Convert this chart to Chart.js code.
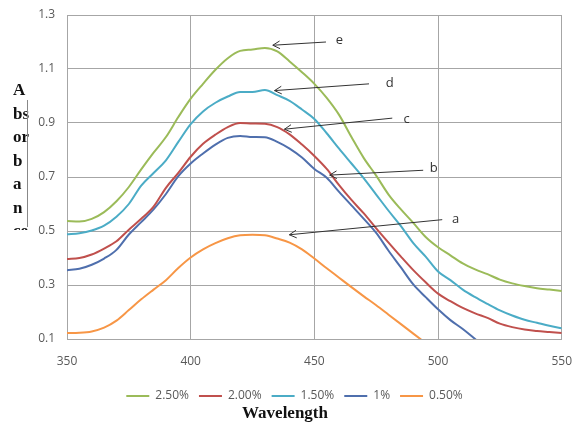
<!DOCTYPE html>
<html>
<head>
<meta charset="utf-8">
<script src="https://cdn.jsdelivr.net/npm/chart.js@4.4.1/dist/chart.umd.min.js"></script>
<style>
html, body { margin: 0; padding: 0; background: #fff; }
</style>
</head>
<body>
<canvas id="absChart" width="587" height="423"></canvas>
<script>
// wavelength (nm), 5 nm steps
const wavelengths = [350, 355, 360, 365, 370, 375, 380, 385, 390, 395,
                     400, 405, 410, 415, 420, 425, 430, 435, 440, 445,
                     450, 455, 460, 465, 470, 475, 480, 485, 490, 495,
                     500, 505, 510, 515, 520, 525, 530, 535, 540, 545, 550];

const abs250 = [0.537, 0.535, 0.545, 0.57, 0.61, 0.663, 0.728, 0.79, 0.848, 0.922,
                0.99, 1.045, 1.097, 1.14, 1.167, 1.172, 1.178, 1.165, 1.128, 1.088,
                1.045, 0.993, 0.93, 0.848, 0.77, 0.705, 0.635, 0.58, 0.53, 0.478,
                0.44, 0.41, 0.38, 0.358, 0.34, 0.32, 0.306, 0.296, 0.288, 0.283, 0.278];

const abs200 = [0.396, 0.4, 0.413, 0.435, 0.462, 0.505, 0.545, 0.59, 0.66, 0.715,
                0.775, 0.823, 0.857, 0.885, 0.9, 0.898, 0.897, 0.885, 0.858, 0.82,
                0.778, 0.73, 0.67, 0.615, 0.565, 0.51, 0.457, 0.405, 0.355, 0.31,
                0.268, 0.24, 0.215, 0.195, 0.178, 0.157, 0.144, 0.135, 0.13, 0.126, 0.122];

const abs150 = [0.488, 0.492, 0.502, 0.52, 0.553, 0.6, 0.668, 0.715, 0.762, 0.83,
                0.896, 0.943, 0.975, 0.998, 1.015, 1.015, 1.022, 1.003, 0.982, 0.95,
                0.915, 0.862, 0.805, 0.75, 0.695, 0.635, 0.575, 0.518, 0.455, 0.405,
                0.35, 0.318, 0.283, 0.255, 0.23, 0.206, 0.187, 0.171, 0.16, 0.149, 0.14];

const abs100 = [0.355, 0.36, 0.375, 0.398, 0.43, 0.487, 0.533, 0.58, 0.637, 0.703,
                0.75, 0.787, 0.82, 0.845, 0.852, 0.848, 0.847, 0.83, 0.805, 0.772,
                0.73, 0.697, 0.645, 0.595, 0.545, 0.493, 0.427, 0.365, 0.302, 0.255,
                0.21, 0.17, 0.137, 0.1, 0.065, null, null, null, null, null, null];

const abs050 = [0.122, 0.123, 0.128, 0.142, 0.168, 0.207, 0.247, 0.283, 0.318, 0.363,
                0.402, 0.432, 0.455, 0.473, 0.484, 0.486, 0.484, 0.472, 0.457, 0.432,
                0.398, 0.362, 0.327, 0.292, 0.258, 0.225, 0.19, 0.155, 0.12, 0.085,
                null, null, null, null, null, null, null, null, null, null, null];

const seriesNames = ['2.50%', '2.00%', '1.50%', '1%', '0.50%'];
const seriesValues = [abs250, abs200, abs150, abs100, abs050];
const seriesColors = ['#9bbb59', '#c0504d', '#4bacc6', '#4f6fad', '#f79646'];

const yTicks = [0.1, 0.3, 0.5, 0.7, 0.9, 1.1, 1.3];
const xTicks = [350, 400, 450, 500, 550];

// arrows: label, arrow tip (wavelength, absorbance), tail, label position
const arrowNotes = [
    { text: 'e', tip: [433.2, 1.188], tail: [454.7, 1.2],   label: [458.7, 1.207] },
    { text: 'd', tip: [433.9, 1.02],  tail: [472.1, 1.045], label: [478.9, 1.047] },
    { text: 'c', tip: [437.9, 0.877], tail: [481.5, 0.918], label: [486.0, 0.914] },
    { text: 'b', tip: [456.2, 0.707], tail: [494.0, 0.725], label: [496.7, 0.733] },
    { text: 'a', tip: [439.9, 0.486], tail: [501.7, 0.542], label: [505.6, 0.544] }
];

const toPoints = vals => wavelengths
    .map((w, i) => ({ x: w, y: vals[i] }))
    .filter(p => p.y !== null);

const arrowPlugin = {
    id: 'arrows',
    afterDatasetsDraw(chart) {
        const { ctx, scales: { x, y } } = chart;
        ctx.save();
        ctx.strokeStyle = '#333';
        ctx.fillStyle = '#333';
        ctx.lineWidth = 1;
        ctx.font = '13px "Open Sans"';
        ctx.textBaseline = 'middle';
        arrowNotes.forEach(n => {
            const tx = x.getPixelForValue(n.tip[0]), ty = y.getPixelForValue(n.tip[1]);
            const sx = x.getPixelForValue(n.tail[0]), sy = y.getPixelForValue(n.tail[1]);
            const ang = Math.atan2(sy - ty, sx - tx);
            ctx.beginPath();
            ctx.moveTo(sx, sy);
            ctx.lineTo(tx, ty);
            ctx.moveTo(tx + 8 * Math.cos(ang - 0.5), ty + 8 * Math.sin(ang - 0.5));
            ctx.lineTo(tx, ty);
            ctx.lineTo(tx + 8 * Math.cos(ang + 0.5), ty + 8 * Math.sin(ang + 0.5));
            ctx.stroke();
            ctx.fillText(n.text, x.getPixelForValue(n.label[0]), y.getPixelForValue(n.label[1]));
        });
        ctx.restore();
    }
};

// broken "Absorbance" title and the "Wavelength" caption, as in the figure
const titlesPlugin = {
    id: 'titles',
    afterDraw(chart) {
        const ctx = chart.ctx;
        const parts = ['A', 'bs', 'or', 'b', 'a', 'n', 'ce'];
        ctx.save();
        ctx.beginPath();
        ctx.rect(0, 0, 60, 230);
        ctx.clip();
        ctx.fillStyle = '#111';
        ctx.font = 'bold 17px "Liberation Serif"';
        ctx.textBaseline = 'alphabetic';
        parts.forEach((p, i) => ctx.fillText(p, 13, 95 + i * 23.5));
        ctx.restore();

        ctx.save();
        ctx.strokeStyle = '#888';
        ctx.lineWidth = 1;
        ctx.beginPath();
        ctx.moveTo(27.5, 100);
        ctx.lineTo(27.5, 227);
        ctx.stroke();

        ctx.fillStyle = '#111';
        ctx.font = 'bold 17px "Liberation Serif"';
        ctx.textAlign = 'center';
        ctx.textBaseline = 'middle';
        ctx.fillText('Wavelength', 285, 414);
        ctx.restore();
    }
};

const noOverhang = s => { s.paddingTop = 0; s.paddingBottom = 0; };

new Chart(document.getElementById('absChart'), {
    type: 'line',
    data: {
        datasets: seriesNames.map((name, i) => ({
            label: name,
            data: toPoints(seriesValues[i]),
            borderColor: seriesColors[i],
            backgroundColor: seriesColors[i],
            borderWidth: 2,
            pointRadius: 0,
            cubicInterpolationMode: 'monotone',
            fill: false
        }))
    },
    options: {
        responsive: false,
        animation: false,
        layout: { padding: { left: 5, right: 3, top: 15, bottom: 11 } },
        scales: {
            x: {
                type: 'linear',
                min: 350,
                max: 550,
                afterBuildTicks: s => { s.ticks = xTicks.map(v => ({ value: v })); },
                afterFit: s => { s.height = 41; },
                grid: { color: '#a6a6a6', drawTicks: false },
                border: { color: '#a6a6a6' },
                ticks: { color: '#595959', font: { family: 'Open Sans', size: 12 }, padding: 15 }
            },
            y: {
                min: 0.1,
                max: 1.3,
                afterBuildTicks: s => { s.ticks = yTicks.map(v => ({ value: v })); },
                afterFit: s => { s.width = 62; noOverhang(s); },
                grid: { color: '#a6a6a6', drawTicks: false },
                border: { color: '#a6a6a6' },
                ticks: {
                    color: '#595959',
                    font: { family: 'Open Sans', size: 12 },
                    padding: 12,
                    callback: v => v.toFixed(1)
                }
            },
            // empty right-hand gutter so the legend sits where it does in the figure
            yRight: {
                position: 'right',
                type: 'linear',
                afterFit: s => { s.width = 21; noOverhang(s); },
                grid: { display: false },
                border: { display: false },
                ticks: { display: false }
            }
        },
        plugins: {
            legend: {
                position: 'bottom',
                labels: {
                    boxWidth: 23,
                    boxHeight: 2,
                    padding: 10,
                    color: '#595959',
                    font: { family: 'Open Sans', size: 12 },
                    generateLabels: chart => Chart.defaults.plugins.legend.labels.generateLabels(chart)
                        .map(l => ({ ...l, lineWidth: 0, fillStyle: l.strokeStyle }))
                }
            },
            tooltip: { enabled: false }
        }
    },
    plugins: [arrowPlugin, titlesPlugin]
});
</script>
</body>
</html>
